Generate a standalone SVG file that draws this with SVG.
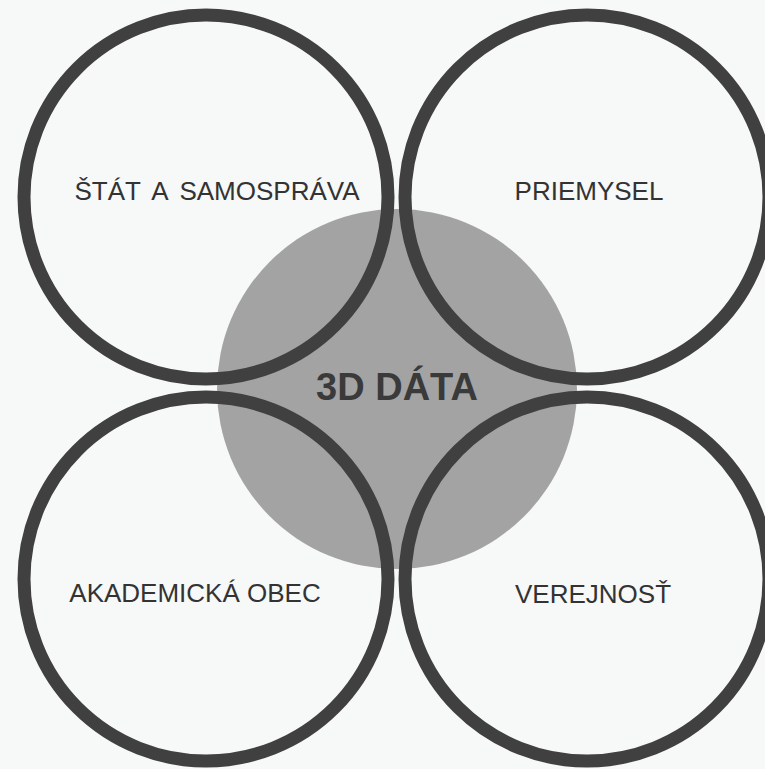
<svg xmlns="http://www.w3.org/2000/svg" width="765" height="769" viewBox="0 0 765 769">
  <style>
    .ring { fill: none; stroke: #404040; stroke-width: 13; }
    .core { fill: #a3a3a3; }
    .lbl { font-family: "Liberation Sans", Arial, sans-serif; font-size: 26px; fill: #333333; text-anchor: middle; }
    .title { font-family: "Liberation Sans", Arial, sans-serif; font-size: 38px; font-weight: bold; fill: #3a3a3a; text-anchor: middle; }
  </style>
  <rect x="0" y="0" width="765" height="769" fill="#f7f8f8"/>
  <g id="center">
    <circle class="core" cx="397" cy="389" r="180"/>
  </g>
  <g id="stat">
    <circle class="ring" cx="206" cy="197" r="182"/>
    <text class="lbl" x="217" y="200" word-spacing="5">ŠTÁT A SAMOSPRÁVA</text>
  </g>
  <g id="priemysel">
    <circle class="ring" cx="587" cy="197" r="182"/>
    <text class="lbl" x="589" y="200">PRIEMYSEL</text>
  </g>
  <g id="akademicka">
    <circle class="ring" cx="206" cy="579" r="182"/>
    <text class="lbl" x="195" y="602">AKADEMICKÁ OBEC</text>
  </g>
  <g id="verejnost">
    <circle class="ring" cx="587" cy="579" r="182"/>
    <text class="lbl" x="593" y="603">VEREJNOSŤ</text>
  </g>
  <g id="center-label">
    <text class="title" x="397" y="400">3D DÁTA</text>
  </g>
  <g id="connectors"></g>
</svg>
